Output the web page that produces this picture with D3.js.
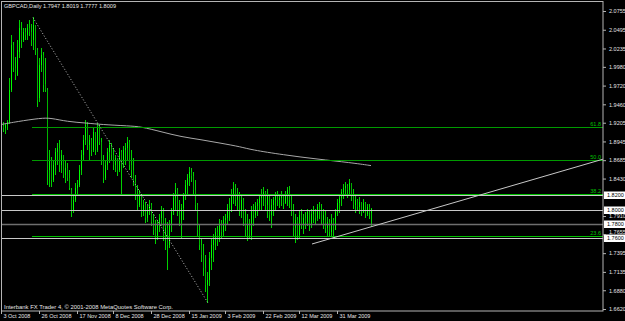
<!DOCTYPE html>
<html>
<head>
<meta charset="utf-8">
<script src="https://cdnjs.cloudflare.com/ajax/libs/d3/7.8.5/d3.min.js"></script>
<style>
  html, body { margin: 0; padding: 0; background: #000; }
  svg { display: block; }
  text { font-family: "Liberation Sans", Arial, sans-serif; }
</style>
</head>
<body>
<div id="chart"></div>
<script>
// GBPCAD daily bars, 3 Oct 2008 .. 14 Apr 2009
let opens = [1.910,1.916,1.913,1.917,1.922,1.966,2.028,1.996,1.987,2.019,
2.049,2.035,2.046,2.042,2.052,2.046,2.035,2.056,2.021,1.955,
2.001,2.015,1.974,1.966,1.855,1.869,1.841,1.862,1.880,1.885,
1.862,1.876,1.848,1.858,1.844,1.827,1.799,1.813,1.830,1.834,
1.855,1.876,1.897,1.917,1.890,1.897,1.883,1.908,1.883,1.913,
1.894,1.869,1.844,1.862,1.880,1.890,1.876,1.862,1.872,1.855,
1.880,1.869,1.883,1.885,1.894,1.862,1.855,1.838,1.820,1.806,
1.820,1.797,1.806,1.788,1.799,1.806,1.783,1.772,1.761,1.779,
1.788,1.799,1.765,1.774,1.751,1.779,1.797,1.816,1.827,1.799,
1.786,1.802,1.819,1.834,1.844,1.852,1.847,1.827,1.806,1.772,
1.751,1.737,1.719,1.695,1.702,1.733,1.751,1.758,1.769,1.758,
1.779,1.769,1.786,1.788,1.802,1.797,1.822,1.830,1.813,1.822,
1.799,1.813,1.783,1.772,1.779,1.765,1.799,1.792,1.805,1.809,
1.816,1.820,1.824,1.806,1.820,1.792,1.806,1.813,1.819,1.813,
1.816,1.820,1.809,1.822,1.827,1.813,1.799,1.774,1.786,1.765,
1.792,1.779,1.788,1.783,1.797,1.779,1.794,1.799,1.788,1.804,
1.799,1.786,1.792,1.774,1.783,1.769,1.786,1.772,1.797,1.809,
1.816,1.824,1.830,1.833,1.827,1.837,1.819,1.806,1.813,1.804,
1.811,1.797,1.809,1.794,1.804,1.7947];

let highs = [1.919,1.922,1.919,1.924,1.983,2.042,2.033,2.012,2.035,2.063,
2.060,2.052,2.052,2.058,2.063,2.058,2.067,2.056,2.024,2.010,
2.024,2.019,2.010,1.969,1.883,1.873,1.869,1.885,1.892,1.897,
1.883,1.876,1.869,1.865,1.855,1.830,1.820,1.837,1.841,1.862,
1.883,1.903,1.924,1.922,1.903,1.899,1.913,1.908,1.920,1.917,
1.899,1.876,1.869,1.885,1.897,1.892,1.885,1.876,1.872,1.885,
1.883,1.888,1.892,1.901,1.897,1.883,1.872,1.848,1.834,1.827,
1.820,1.813,1.811,1.806,1.813,1.809,1.794,1.786,1.786,1.794,
1.805,1.802,1.788,1.783,1.786,1.802,1.823,1.837,1.830,1.813,
1.808,1.823,1.841,1.849,1.859,1.858,1.852,1.841,1.809,1.780,
1.761,1.752,1.737,1.713,1.741,1.761,1.766,1.774,1.777,1.787,
1.786,1.791,1.794,1.808,1.816,1.829,1.838,1.836,1.830,1.824,
1.822,1.816,1.801,1.794,1.787,1.805,1.808,1.811,1.815,1.822,
1.829,1.831,1.826,1.829,1.822,1.815,1.817,1.824,1.826,1.822,
1.826,1.822,1.826,1.831,1.833,1.822,1.808,1.794,1.790,1.798,
1.801,1.794,1.797,1.801,1.799,1.801,1.805,1.801,1.808,1.811,
1.808,1.801,1.798,1.790,1.787,1.794,1.788,1.801,1.815,1.822,
1.829,1.836,1.838,1.836,1.842,1.837,1.829,1.822,1.815,1.817,
1.811,1.815,1.811,1.808,1.808,1.8019];

let lows = [1.906,1.908,1.905,1.910,1.919,1.963,1.991,1.980,1.985,2.010,
2.024,2.033,2.035,2.035,2.041,2.027,2.021,2.015,1.942,1.949,
1.991,1.963,1.963,1.834,1.831,1.831,1.838,1.848,1.862,1.852,
1.851,1.844,1.837,1.840,1.827,1.790,1.795,1.811,1.819,1.831,
1.848,1.869,1.890,1.883,1.869,1.874,1.880,1.876,1.880,1.890,
1.862,1.837,1.841,1.855,1.865,1.869,1.855,1.852,1.847,1.852,
1.820,1.858,1.862,1.869,1.855,1.844,1.833,1.813,1.799,1.804,
1.790,1.791,1.781,1.783,1.792,1.777,1.765,1.752,1.758,1.769,
1.777,1.756,1.744,1.716,1.747,1.769,1.792,1.799,1.791,1.777,
1.761,1.786,1.813,1.820,1.833,1.838,1.819,1.799,1.763,1.744,
1.727,1.708,1.686,1.670,1.694,1.716,1.727,1.744,1.749,1.755,
1.761,1.763,1.770,1.780,1.784,1.797,1.808,1.805,1.798,1.791,
1.788,1.777,1.763,1.756,1.761,1.758,1.777,1.788,1.791,1.798,
1.798,1.805,1.798,1.788,1.784,1.774,1.791,1.798,1.805,1.802,
1.805,1.801,1.808,1.805,1.802,1.791,1.763,1.754,1.758,1.761,
1.773,1.766,1.773,1.777,1.770,1.774,1.781,1.780,1.784,1.787,
1.780,1.773,1.768,1.763,1.763,1.762,1.761,1.772,1.791,1.795,
1.805,1.815,1.819,1.816,1.819,1.812,1.801,1.795,1.798,1.794,
1.791,1.795,1.788,1.791,1.787,1.7777];

let closes = [1.916,1.913,1.917,1.922,1.966,2.028,1.996,1.987,2.021,2.052,
2.035,2.046,2.042,2.052,2.046,2.035,2.056,2.021,1.952,2.001,
2.015,1.973,1.966,1.855,1.869,1.841,1.862,1.880,1.885,1.862,
1.876,1.848,1.858,1.844,1.830,1.799,1.813,1.830,1.834,1.855,
1.876,1.897,1.917,1.890,1.897,1.883,1.908,1.883,1.913,1.894,
1.869,1.844,1.862,1.880,1.890,1.876,1.862,1.872,1.855,1.880,
1.869,1.883,1.885,1.894,1.862,1.855,1.838,1.820,1.806,1.820,
1.797,1.806,1.788,1.799,1.806,1.783,1.772,1.761,1.779,1.788,
1.799,1.765,1.774,1.751,1.779,1.797,1.816,1.827,1.799,1.786,
1.802,1.819,1.834,1.844,1.852,1.847,1.827,1.806,1.772,1.751,
1.737,1.719,1.695,1.702,1.733,1.751,1.758,1.769,1.758,1.779,
1.769,1.786,1.788,1.802,1.797,1.822,1.830,1.813,1.822,1.799,
1.813,1.783,1.772,1.779,1.765,1.799,1.792,1.805,1.809,1.816,
1.820,1.824,1.806,1.820,1.792,1.806,1.813,1.819,1.813,1.816,
1.820,1.809,1.822,1.827,1.813,1.799,1.774,1.786,1.765,1.792,
1.779,1.788,1.783,1.797,1.779,1.794,1.799,1.788,1.804,1.799,
1.786,1.792,1.774,1.783,1.769,1.786,1.772,1.797,1.809,1.816,
1.824,1.830,1.833,1.827,1.837,1.819,1.806,1.813,1.804,1.811,
1.797,1.809,1.794,1.804,1.795,1.8009];

// moving average, sampled at bar indexes
let maIdx = [0, 8, 20, 25, 33, 43, 50, 64, 70, 80, 90, 100, 110, 120, 125, 141, 158, 175, 185];
let maVals = [1.918, 1.922, 1.927, 1.927, 1.922, 1.920, 1.918, 1.916, 1.915, 1.908,
              1.901, 1.897, 1.892, 1.887, 1.883, 1.876, 1.870, 1.865, 1.861];

// 1.8170 sits under the 1.8200 box in the original, so it is left out
let priceTicks = [2.0755, 2.0495, 2.0235, 1.9980, 1.9720, 1.9460, 1.9205, 1.8945, 1.8685,
                  1.8430, 1.7910, 1.7655, 1.7395, 1.7135, 1.6880, 1.6620];
let dateLabels = ["3 Oct 2008", "26 Oct 2008", "17 Nov 2008", "8 Dec 2008", "28 Dec 2008",
                  "15 Jan 2009", "3 Feb 2009", "22 Feb 2009", "12 Mar 2009", "31 Mar 2009"];
let dateIdx = [0, 19, 38, 56, 75, 94, 112, 131, 149, 168];

// horizontal lines and fibo retracement
let hLevels = [1.8200, 1.8000, 1.7800, 1.7600];
let fibHigh = 2.0662, fibLow = 1.6704;
let fibHighIdx = 16, fibLowIdx = 103.5;
let fibLevels = [23.6, 38.2, 50.0, 61.8];
// trend line: two anchors (bar index, price)
let trendIdx = [155.5, 301];
let trendPrice = [1.7522, 1.8699];

let W = 625, H = 321;
let plot = {left: 1.5, top: 1.5, right: 603, bottom: 311};

let svg = d3.select("#chart").append("svg")
    .attr("width", W).attr("height", H)
    .style("background", "#000");

let x = d3.scaleLinear().domain([0, 301]).range([1, 603]);
let y = d3.scaleLinear().domain([1.6620, 2.0755]).range([309, 11]);

let bars = opens.map((o, i) => ({i: i, o: o, h: highs[i], l: lows[i], c: closes[i]}));

// bars
let gBars = svg.append("g").attr("shape-rendering", "crispEdges");
gBars.selectAll("rect.wick").data(bars).enter().append("rect")
    .attr("class", "wick")
    .attr("x", d => Math.round(x(d.i)))
    .attr("width", 1)
    .attr("y", d => Math.round(y(d.h)))
    .attr("height", d => Math.max(1, Math.round(y(d.l)) - Math.round(y(d.h))))
    .attr("fill", "#00d200");
gBars.selectAll("rect.body").data(bars).enter().append("rect")
    .attr("class", "body")
    .attr("x", d => Math.round(x(d.i)))
    .attr("width", 1)
    .attr("y", d => Math.round(y(Math.max(d.o, d.c))))
    .attr("height", d => Math.max(1, Math.round(y(Math.min(d.o, d.c))) - Math.round(y(Math.max(d.o, d.c)))))
    .attr("fill", d => d.c >= d.o ? "#00ff00" : "#00b400");

// moving average
let ma = maIdx.map((d, i) => [d, maVals[i]]);
svg.append("path")
    .attr("d", d3.line().x(d => x(d[0])).y(d => y(d[1])).curve(d3.curveBasis)(ma))
    .attr("fill", "none")
    .attr("stroke", "#a8a8a8")
    .attr("stroke-width", 1);

// horizontal levels
svg.selectAll("line.hl").data(hLevels).enter().append("line")
    .attr("x1", plot.left).attr("x2", plot.right)
    .attr("y1", d => Math.round(y(d)) + 0.5).attr("y2", d => Math.round(y(d)) + 0.5)
    .attr("stroke", d => d === 1.78 ? "#6e6e6e" : "#c8c8c8")
    .attr("stroke-width", d => d === 1.78 ? 1.5 : 1);

// fibo
let fibPrice = f => fibLow + (fibHigh - fibLow) * f / 100;
svg.selectAll("line.fib").data(fibLevels).enter().append("line")
    .attr("x1", x(fibHighIdx - 0.5)).attr("x2", plot.right)
    .attr("y1", d => Math.round(y(fibPrice(d))) + 0.5).attr("y2", d => Math.round(y(fibPrice(d))) + 0.5)
    .attr("stroke", d => d > 45 ? "#009a00" : "#00c000")
    .attr("stroke-width", 1);
svg.selectAll("text.fib").data(fibLevels).enter().append("text")
    .attr("x", 601).attr("y", d => Math.round(y(fibPrice(d))) - 1)
    .attr("text-anchor", "end")
    .attr("font-size", "5.5px")
    .attr("fill", "#00c000")
    .text(d => d.toFixed(1));
svg.append("line")
    .attr("x1", x(fibHighIdx)).attr("y1", y(fibHigh))
    .attr("x2", x(fibLowIdx)).attr("y2", y(fibLow))
    .attr("stroke", "#c0c0c0")
    .attr("stroke-dasharray", "1,2");

// trend line
svg.append("line")
    .attr("x1", x(trendIdx[0])).attr("y1", y(trendPrice[0]))
    .attr("x2", x(trendIdx[1])).attr("y2", y(trendPrice[1]))
    .attr("stroke", "#c8c8c8");

// frame
svg.append("rect")
    .attr("x", plot.left).attr("y", plot.top)
    .attr("width", plot.right - plot.left).attr("height", plot.bottom - plot.top)
    .attr("fill", "none").attr("stroke", "#b4b4b4");

// price axis
let yAxis = svg.append("g")
    .attr("transform", `translate(${plot.right},0)`)
    .call(d3.axisRight(y).tickValues(priceTicks).tickSize(3).tickSizeOuter(0).tickPadding(3)
        .tickFormat(d => d.toFixed(4)));
yAxis.select(".domain").remove();
yAxis.selectAll("line").attr("stroke", "#b4b4b4");
yAxis.selectAll("text").attr("fill", "#e6e6e6").attr("font-size", "5.5px")
    .attr("font-family", "Liberation Sans, Arial, sans-serif")
    .attr("dy", d => d === 1.7655 ? "-0.2em" : "0.32em");

// date axis
let xAxis = svg.append("g")
    .attr("transform", `translate(0,${plot.bottom})`)
    .call(d3.axisBottom(x).tickValues(dateIdx).tickSize(3).tickSizeOuter(0)
        .tickFormat((d, i) => dateLabels[i]));
xAxis.select(".domain").remove();
xAxis.selectAll("line").attr("stroke", "#b4b4b4");
xAxis.selectAll("text").attr("fill", "#e6e6e6").attr("font-size", "5.5px")
    .attr("font-family", "Liberation Sans, Arial, sans-serif")
    .attr("text-anchor", "start").attr("dx", "2").attr("y", 3);

// level price boxes
let boxes = svg.selectAll("g.box").data(hLevels).enter().append("g")
    .attr("transform", d => `translate(604,${Math.round(y(d))})`);
boxes.append("rect")
    .attr("x", 0).attr("y", -3.5).attr("width", 21).attr("height", 7.5)
    .attr("fill", "#fff");
boxes.append("text")
    .attr("x", 3).attr("y", 2)
    .attr("font-size", "5.5px").attr("fill", "#000")
    .text(d => d.toFixed(4));

// header and footer
let last = bars[bars.length - 1];
svg.append("text")
    .attr("x", 4).attr("y", 8)
    .attr("font-size", "6px").attr("fill", "#e6e6e6")
    .attr("textLength", 112).attr("lengthAdjust", "spacingAndGlyphs")
    .text(`GBPCAD,Daily  ${last.o.toFixed(4)} ${last.h.toFixed(4)} ${last.l.toFixed(4)} ${last.c.toFixed(4)}`);
svg.append("text")
    .attr("x", 4).attr("y", 309)
    .attr("font-size", "6px").attr("fill", "#e6e6e6")
    .attr("textLength", 169).attr("lengthAdjust", "spacingAndGlyphs")
    .text("Interbank FX Trader 4, © 2001-2008 MetaQuotes Software Corp.");
</script>
</body>
</html>
